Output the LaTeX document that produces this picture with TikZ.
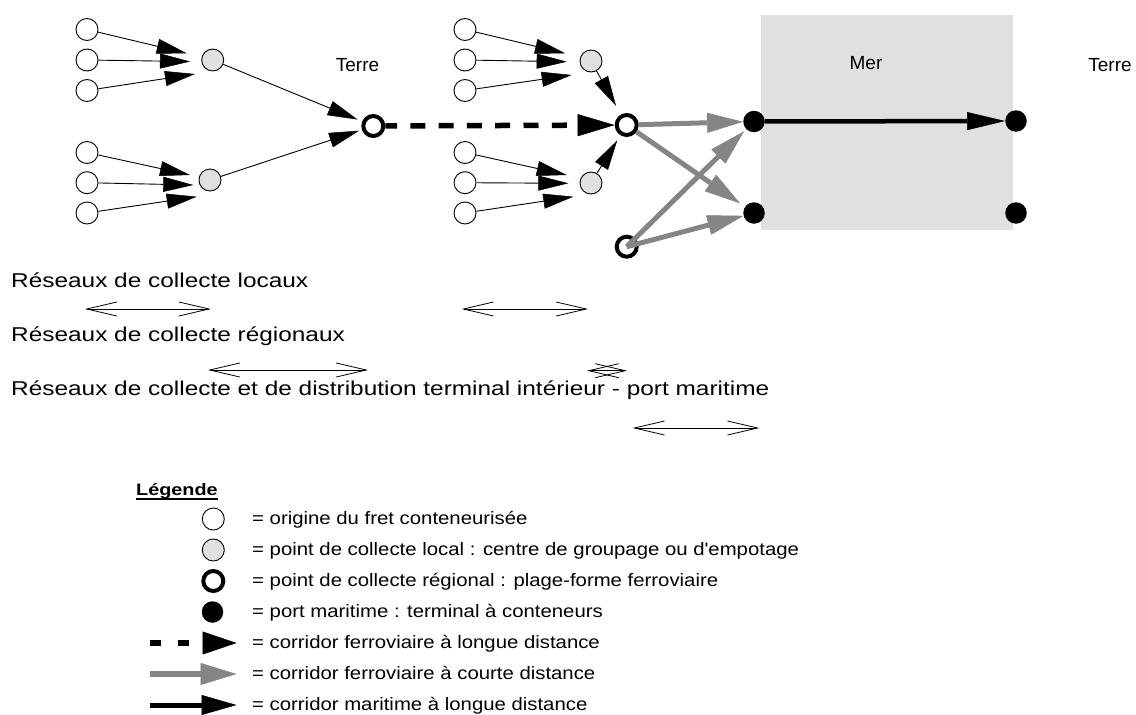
\documentclass[tikz,border=0pt]{standalone}
\usepackage{graphicx}
\usepackage{fontspec}
\setmainfont{Liberation Sans}
\usetikzlibrary{arrows.meta}
\definecolor{paleg}{HTML}{E0E0E0}
\definecolor{railg}{HTML}{858585}
% horizontally widened text
\newcommand\wtext[2]{\scalebox{#1}[1]{#2}}

\begin{document}
\begin{tikzpicture}[x=1pt,y=-1pt,
  origin/.style={circle,draw,line width=0.9pt,fill=white,minimum size=22pt,inner sep=0pt},
  local/.style={origin,fill=paleg},
  region/.style={circle,draw,line width=4pt,fill=white,minimum size=20pt,inner sep=0pt},
  port/.style={circle,fill=black,minimum size=21.5pt,inner sep=0pt},
  feed/.style={line width=0.9pt,-{Triangle[length=30pt,width=15pt,line width=0.5pt]}},
  longrail/.style={line width=5.5pt,dash pattern=on 15pt off 13.3pt,
    -{Triangle[length=37pt,width=22pt,line width=0.5pt]}},
  shortrail/.style={railg,line width=5pt,-{Triangle[length=36pt,width=20pt,line width=0.5pt]}},
  sea/.style={line width=4.5pt,-{Triangle[length=38pt,width=18pt,line width=0.5pt]}},
  span/.style={line width=0.8pt,
    {Straight Barb[length=30pt,width=14pt]}-{Straight Barb[length=30pt,width=14pt]}},
  lbl/.style={font=\fontsize{19}{22}\selectfont,inner sep=0pt},
  net/.style={font=\fontsize{20}{24}\selectfont,inner sep=0pt,anchor=base west},
  key/.style={font=\fontsize{18}{21}\selectfont,inner sep=0pt,anchor=base west},
]
\useasboundingbox (0,0) rectangle (1136,715);

% sea area
\fill[paleg] (761,15) rectangle (1013,230);

% area labels
\node[lbl] (terreW) at (357.5,65) {Terre};
\node[lbl] (mer) at (866,63) {Mer};
\node[lbl] (terreE) at (1110,65) {Terre};

% left cluster
\node[origin] (a1) at (87,29.5) {};
\node[origin] (a2) at (87,60) {};
\node[origin] (a3) at (87,90.5) {};
\node[origin] (a4) at (87,152.5) {};
\node[origin] (a5) at (87,182.7) {};
\node[origin] (a6) at (87,213) {};
\node[local] (g1) at (212.7,60) {};
\node[local] (g2) at (210,180) {};
\node[region] (b1) at (373.3,126) {};

% right cluster
\node[origin] (c1) at (465,29.5) {};
\node[origin] (c2) at (465,60) {};
\node[origin] (c3) at (465,90.5) {};
\node[origin] (c4) at (465,152.5) {};
\node[origin] (c5) at (465,182.7) {};
\node[origin] (c6) at (465,213) {};
\node[local] (g3) at (591,61) {};
\node[local] (g4) at (591,183) {};
\node[region] (b2) at (626.7,125) {};
\node[region] (b3) at (626.7,246.7) {};

% sea ports
\node[port] (p1) at (754,121.5) {};
\node[port] (p2) at (754,213) {};
\node[port] (p3) at (1016,121) {};
\node[port] (p4) at (1016,213) {};

% local feeders, each tip slightly fanned in front of its collection point
\draw[feed] (a1) -- ([shift={(-26,-6.7)}]g1.center);
\draw[feed] (a2) -- ([shift={(-22.7,1.5)}]g1.center);
\draw[feed] (a3) -- ([shift={(-17.7,14)}]g1.center);
\draw[feed] (a4) -- ([shift={(-20,-5)}]g2.center);
\draw[feed] (a5) -- ([shift={(-16.7,5)}]g2.center);
\draw[feed] (a6) -- ([shift={(-13.3,16.7)}]g2.center);
\draw[feed] (c1) -- ([shift={(-26,-7.7)}]g3.center);
\draw[feed] (c2) -- ([shift={(-24.3,0.7)}]g3.center);
\draw[feed] (c3) -- ([shift={(-19.3,14)}]g3.center);
\draw[feed] (c4) -- ([shift={(-24.3,-8)}]g4.center);
\draw[feed] (c5) -- ([shift={(-22.7,0.3)}]g4.center);
\draw[feed] (c6) -- ([shift={(-17.7,13.7)}]g4.center);
\draw[feed,shorten >=5pt] (g1) -- (b1);
\draw[feed,shorten >=3pt] (g2) -- (b1);
\draw[feed,shorten >=10pt] (g3) -- (b2);
\draw[feed,shorten >=6pt] (g4) -- (b2);

% corridors
\draw[longrail,dash phase=3.3pt] (b1) -- (b2);
\draw[shortrail] (b2) -- (p1);
\draw[shortrail,shorten >=6pt] (b2) -- (p2);
\draw[shortrail,shorten >=3pt] (b3.center) -- (p1);
\draw[shortrail] (b3.center) -- (p2);
\draw[sea] (p1) -- (p3);

% network levels
\node[net] (t1) at (11,287.3) {\wtext{1.22}{Réseaux de collecte locaux}};
\node[net] (t2) at (11,341.7) {\wtext{1.22}{Réseaux de collecte régionaux}};
\node[net] (t3) at (11,395) {\wtext{1.22}{Réseaux de collecte et de distribution terminal intérieur - port maritime}};

\coordinate (s1a) at (85,309);     \coordinate (s1b) at (210.7,309);
\coordinate (s2a) at (461.7,309);  \coordinate (s2b) at (588,309);
\coordinate (s3a) at (208,370);    \coordinate (s3b) at (368,370);
\coordinate (s4a) at (587,370.7);  \coordinate (s4b) at (627,370.7);
\coordinate (s5a) at (632.7,428);  \coordinate (s5b) at (759.3,428);
\draw[span] (s1a) -- (s1b);
\draw[span] (s2a) -- (s2b);
\draw[span] (s3a) -- (s3b);
\draw[span] (s4a) -- (s4b);
\draw[span] (s5a) -- (s5b);

% legend
\node[font=\bfseries\fontsize{16.5}{20}\selectfont,inner sep=0pt,anchor=base west] (leg) at (136,495.7) {\wtext{1.2}{Légende}};
\draw[line width=1.6pt] ([yshift=-3.3pt]leg.base west) -- ([yshift=-3.3pt]leg.base east);

\node[origin] (k1) at (213.3,519) {};
\node[local] (k2) at (213.3,550) {};
\node[region] (k3) at (213.3,581) {};
\node[port] (k4) at (212.5,612) {};
\coordinate (k5a) at (150,643); \coordinate (k5b) at (236.5,643);
\coordinate (k6a) at (150,674); \coordinate (k6b) at (236.5,674);
\coordinate (k7a) at (150,705); \coordinate (k7b) at (236.5,705);
\draw[longrail,dash pattern=on 11pt off 17pt,
  -{Triangle[length=34pt,width=23pt,line width=0.5pt]}] (k5a) -- (k5b);
\draw[shortrail,line width=6pt,-{Triangle[length=36pt,width=22pt,line width=0.5pt]}] (k6a) -- (k6b);
\draw[sea,line width=5pt,-{Triangle[length=35pt,width=20pt,line width=0.5pt]}] (k7a) -- (k7b);

\node[key] (e1) at (252,524.5) {\wtext{1.13}{= origine du fret conteneurisée}};
\node[key] (e2) at (252,555.5) {\wtext{1.13}{= point de collecte local : centre de groupage ou d\textquotesingle empotage}};
\node[key] (e3) at (252,586.5) {\wtext{1.13}{= point de collecte régional : plage-forme ferroviaire}};
\node[key] (e4) at (252,617.5) {\wtext{1.13}{= port maritime : terminal à conteneurs}};
\node[key] (e5) at (252,648.5) {\wtext{1.13}{= corridor ferroviaire à longue distance}};
\node[key] (e6) at (252,679.5) {\wtext{1.13}{= corridor ferroviaire à courte distance}};
\node[key] (e7) at (252,710.3) {\wtext{1.13}{= corridor maritime à longue distance}};
\end{tikzpicture}
\end{document}
